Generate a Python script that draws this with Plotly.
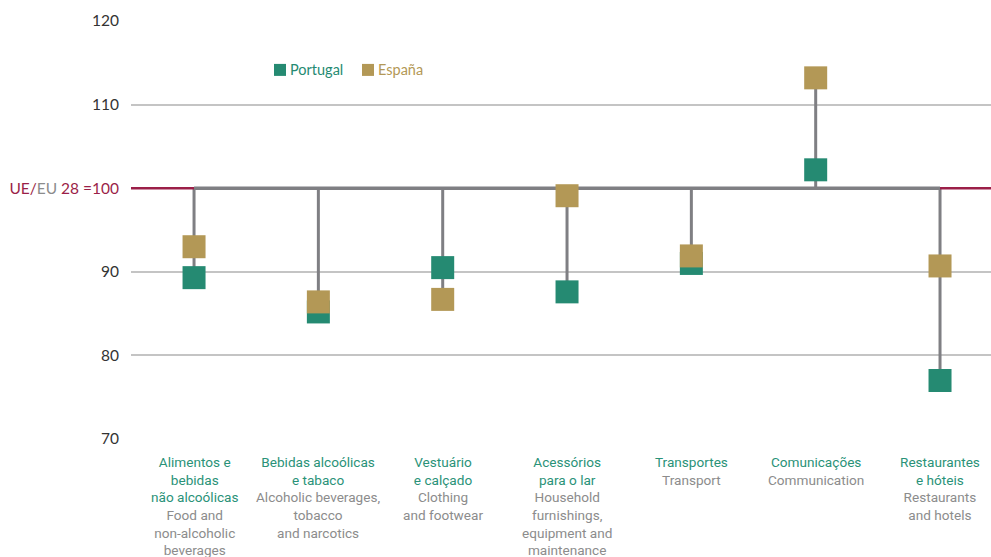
import plotly.graph_objects as go

categories_pt = ["Alimentos e<br>bebidas<br>não alcoólicas", "Bebidas alcoólicas<br>e tabaco",
                 "Vestuário<br>e calçado", "Acessórios<br>para o lar", "Transportes",
                 "Comunicações", "Restaurantes<br>e hóteis"]
categories_en = ["Food and<br>non-alcoholic<br>beverages", "Alcoholic beverages,<br>tobacco<br>and narcotics",
                 "Clothing<br>and footwear", "Household<br>furnishings,<br>equipment and<br>maintenance",
                 "Transport", "Communication", "Restaurants<br>and hotels"]
portugal = [89.3, 85.2, 90.5, 87.6, 91.0, 102.2, 77.0]
espana = [93.0, 86.4, 86.7, 99.1, 91.9, 113.2, 90.7]
series_names = ["Portugal", "España"]
baseline = 100
y_ticks = [70, 80, 90, 100, 110, 120]

TEAL = "#258a72"
GOLD = "#b39856"
STEM = "#7f7f83"
RED = "#9b1f48"
LABEL_GRAY = "#8c8c8c"
LABEL_TEAL = "#2a9278"
FONT = "Lato"
LABEL_FONT = "Roboto"

x = list(range(len(categories_pt)))
x_range = [-0.507, 6.41]

fig = go.Figure()

# stems
sx, sy = [], []
for i, (p, e) in enumerate(zip(portugal, espana)):
    lo = min(p, e, baseline)
    hi = max(p, e, baseline)
    sx += [i, i, None]
    sy += [lo, hi, None]
fig.add_trace(go.Scatter(x=sx, y=sy, mode="lines", line=dict(color=STEM, width=3),
                         showlegend=False, hoverinfo="skip"))

# baseline segments
fig.add_shape(type="line", xref="x", yref="y", x0=x_range[0], x1=x[0], y0=baseline, y1=baseline,
              line=dict(color=RED, width=2.5))
fig.add_shape(type="line", xref="x", yref="y", x0=x[-1], x1=x_range[1], y0=baseline, y1=baseline,
              line=dict(color=RED, width=2.5))
fig.add_trace(go.Scatter(x=[x[0], x[-1]], y=[baseline, baseline], mode="lines",
                         line=dict(color=STEM, width=3.5), showlegend=False, hoverinfo="skip"))

fig.add_trace(go.Scatter(x=x, y=portugal, mode="markers", name=series_names[0], showlegend=False,
                         marker=dict(symbol="square", size=23, color=TEAL, line=dict(width=0))))
fig.add_trace(go.Scatter(x=x, y=espana, mode="markers", name=series_names[1], showlegend=False,
                         marker=dict(symbol="square", size=23, color=GOLD, line=dict(width=0))))

# legend (manual, compact)
legend_items = [(series_names[0], TEAL, 0.1663), (series_names[1], GOLD, 0.2686)]
for name, col, lx in legend_items:
    fig.add_shape(type="rect", xref="paper", yref="paper",
                  x0=lx, x1=lx + 12 / 860, y0=0.883 - 6 / 418, y1=0.883 + 6 / 418,
                  fillcolor=col, line=dict(width=0))
    fig.add_annotation(x=lx + 14 / 860, y=0.885, xref="paper", yref="paper", xanchor="left",
                       yanchor="middle", showarrow=False, text=name,
                       font=dict(family=FONT, size=14.5, color=col))

for i, (pt, en) in enumerate(zip(categories_pt, categories_en)):
    fig.add_annotation(x=i, xref="x", y=-0.031, yref="paper", yanchor="top", showarrow=False,
                       align="center",
                       text=f"<span style='color:{LABEL_TEAL}'>{pt}</span><br><span style='color:{LABEL_GRAY}'>{en}</span>",
                       font=dict(family=LABEL_FONT, size=13.6))

tick_text = []
for t in y_ticks:
    if t == baseline:
        tick_text.append(f"<span style='color:{RED}'>UE/</span><span style='color:{LABEL_GRAY}'>EU</span>"
                         f"<span style='color:{RED}'> 28 =100</span>")
    else:
        tick_text.append(str(t))

fig.update_layout(
    width=991, height=557,
    margin=dict(l=131, r=0, t=21, b=118),
    plot_bgcolor="white", paper_bgcolor="white",
    font=dict(family=FONT, size=15.5, color="#333333"),
    showlegend=False,
    xaxis=dict(range=x_range, showgrid=False, showticklabels=False, zeroline=False,
               showline=False, fixedrange=True),
    yaxis=dict(range=[70, 120], tickvals=y_ticks, ticktext=tick_text, showgrid=True,
               gridcolor="#c4c4c4", gridwidth=1.5, zeroline=False, showline=False,
               ticklabelstandoff=11, fixedrange=True),
)
fig.write_html("out.html", config={"displayModeBar": False},
               post_script="document.body.style.margin='0';document.body.style.overflow='hidden';")
